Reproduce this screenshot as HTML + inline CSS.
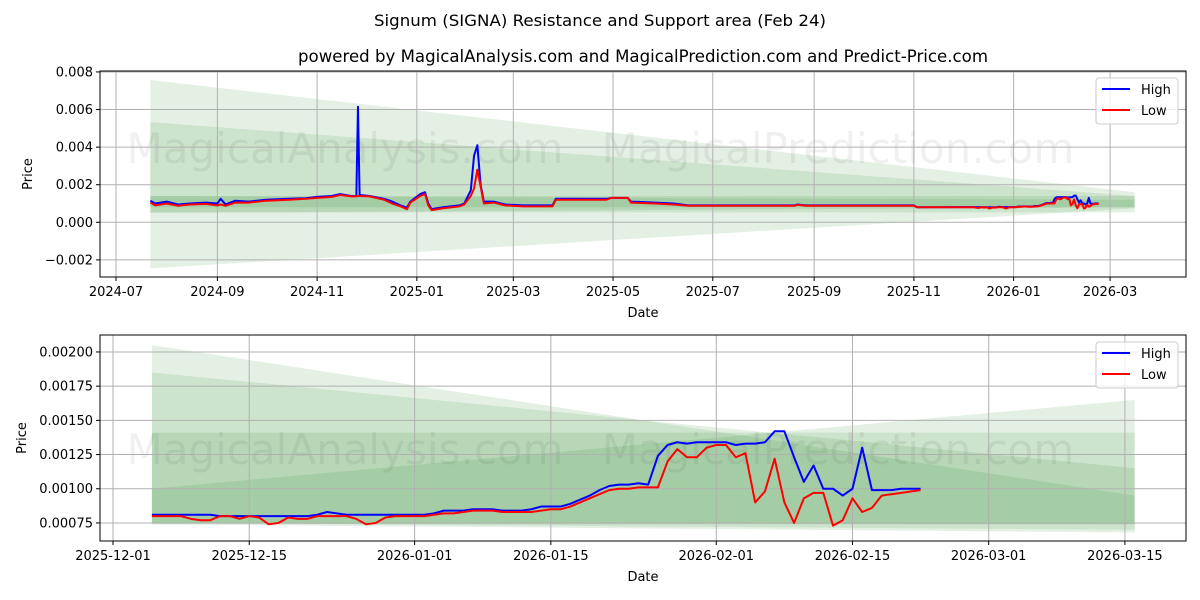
<!DOCTYPE html>
<html><head><meta charset="utf-8"><style>
body{margin:0;background:#fff;}
svg{display:block;font-family:"DejaVu Sans","Liberation Sans",sans-serif;}
</style></head><body>
<svg id="chart" width="1200" height="600" viewBox="0 0 1200 600" xmlns="http://www.w3.org/2000/svg">
<text x="600" y="26" text-anchor="middle" font-size="16" textLength="452" lengthAdjust="spacingAndGlyphs" fill="#000">Signum (SIGNA) Resistance and Support area (Feb 24)</text>
<text x="643" y="62" text-anchor="middle" font-size="16.5" textLength="690" lengthAdjust="spacingAndGlyphs" fill="#000">powered by MagicalAnalysis.com and MagicalPrediction.com and Predict-Price.com</text>
<g id="top"></g>
<g id="bot"></g>
</svg>
<script>
// ---- data ----
const topDates=["2024-07-22","2024-07-25","2024-08-01","2024-08-08","2024-08-15","2024-08-25","2024-09-01","2024-09-03","2024-09-06","2024-09-12","2024-09-20","2024-10-01","2024-10-15","2024-10-25","2024-11-01","2024-11-10","2024-11-15","2024-11-22","2024-11-25","2024-11-26","2024-11-27","2024-12-03","2024-12-12","2024-12-17","2024-12-22","2024-12-26","2024-12-28","2025-01-03","2025-01-06","2025-01-08","2025-01-10","2025-01-17","2025-01-27","2025-01-30","2025-02-03","2025-02-05","2025-02-07","2025-02-09","2025-02-11","2025-02-17","2025-02-24","2025-03-07","2025-03-25","2025-03-27","2025-04-27","2025-04-30","2025-05-10","2025-05-12","2025-05-27","2025-06-07","2025-06-16","2025-08-20","2025-08-22","2025-08-27","2025-11-01","2025-11-03","2025-11-30"];
const topHigh=[.00115,.00100,.00110,.00095,.00100,.00105,.00100,.00125,.00095,.00115,.00110,.00120,.00125,.00128,.00135,.00140,.00150,.00140,.00140,.00615,.00145,.00140,.00125,.00110,.00090,.00078,.00110,.00150,.00160,.00100,.00070,.00080,.00090,.00100,.00170,.00355,.00410,.00200,.00110,.00110,.00095,.00090,.00090,.00125,.00125,.00130,.00130,.00110,.00105,.00100,.00090,.00090,.00095,.00090,.00090,.00080,.00081];
const topLow=[.00105,.00090,.00100,.00088,.00095,.00098,.00090,.00095,.00088,.00105,.00105,.00115,.00120,.00125,.00130,.00135,.00145,.00138,.00138,.00140,.00140,.00138,.00120,.00100,.00085,.00070,.00105,.00140,.00150,.00090,.00065,.00075,.00085,.00095,.00140,.00180,.00280,.00190,.00100,.00105,.00090,.00085,.00085,.00120,.00120,.00130,.00130,.00105,.00100,.00095,.00088,.00088,.00093,.00088,.00088,.00080,.00080];
const botStart="2025-12-05";
const botHigh=[.00081,.00081,.00081,.00081,.00081,.00081,.00081,.00080,.00080,.00080,.00080,.00080,.00080,.00080,.00080,.00080,.00080,.00081,.00083,.00082,.00081,.00081,.00081,.00081,.00081,.00081,.00081,.00081,.00081,.00082,.00084,.00084,.00084,.00085,.00085,.00085,.00084,.00084,.00084,.00085,.00087,.00087,.00087,.00089,.00092,.00095,.00099,.00102,.00103,.00103,.00104,.00103,.00124,.00132,.00134,.00133,.00134,.00134,.00134,.00134,.00132,.00133,.00133,.00134,.00142,.00142,.00123,.00105,.00117,.00100,.00100,.00095,.00100,.00130,.00099,.00099,.00099,.00100,.00100,.00100];
const botLow=[.00080,.00080,.00080,.00080,.00078,.00077,.00077,.00080,.00080,.00078,.00080,.00079,.00074,.00075,.00079,.00078,.00078,.00080,.00080,.00080,.00080,.00078,.00074,.00075,.00079,.00080,.00080,.00080,.00080,.00081,.00082,.00082,.00083,.00084,.00084,.00084,.00083,.00083,.00083,.00083,.00084,.00085,.00085,.00087,.00090,.00093,.00096,.00099,.00100,.00100,.00101,.00101,.00101,.00120,.00129,.00123,.00123,.00130,.00132,.00132,.00123,.00126,.00090,.00098,.00122,.00090,.00075,.00093,.00097,.00097,.00073,.00077,.00093,.00083,.00086,.00095,.00096,.00097,.00098,.00099];
const topYTicks=[0.008,0.006,0.004,0.002,0,-0.002];
const topYLabels=["0.008","0.006","0.004","0.002","0.000","\u22120.002"];
const topXTicks=["2024-07","2024-09","2024-11","2025-01","2025-03","2025-05","2025-07","2025-09","2025-11","2026-01","2026-03"];
const botYTicks=[0.002,0.00175,0.0015,0.00125,0.001,0.00075];
const botYLabels=["0.00200","0.00175","0.00150","0.00125","0.00100","0.00075"];
const botXTicks=["2025-12-01","2025-12-15","2026-01-01","2026-01-15","2026-02-01","2026-02-15","2026-03-01","2026-03-15"];
// band layers: [startTop,startBottom,endTop,endBottom]
const topBands=[[0.00757,-0.00245,0.0016,0.00075],[0.00533,0.0005,0.0014,0.0008],[0.0014,0.00053,0.0014,0.00053],[0.0014,0.0008,0.0012,0.0008]];
const botBands=[[0.00205,0.00075,0.00095,0.00070],[0.00185,0.00075,0.00115,0.00074],[0.00141,0.00074,0.00141,0.00074],[0.00100,0.00074,0.00165,0.00068]];
const bandStart="2024-07-22", bandEnd="2026-03-16", botBandStart="2025-12-05";

const NS="http://www.w3.org/2000/svg";
const day=s=>Date.UTC(+s.slice(0,4),+s.slice(5,7)-1,s.length>7?+s.slice(8,10):1)/864e5;
function mk(parent,tag,attrs){const e=document.createElementNS(NS,tag);for(const k in attrs)e.setAttribute(k,attrs[k]);parent.appendChild(e);return e;}

function panel(g,cfg){
  const {L,R,T,B}=cfg;
  const X=d=>L+(d-cfg.d0)/(cfg.d1-cfg.d0)*(R-L);
  const Y=v=>T+(cfg.v1-v)/(cfg.v1-cfg.v0)*(B-T);
  const bs=day(cfg.bandStart),be=day(bandEnd);
  cfg.bands.forEach((b,i)=>{
    const p=mk(g,'polygon',{points:`${X(bs)},${Y(b[0])} ${X(be)},${Y(b[2])} ${X(be)},${Y(b[3])} ${X(bs)},${Y(b[1])}`,fill:'#2e8b2e','fill-opacity':0.13});
    
    
  });
  [[345,'MagicalAnalysis.com'],[838,'MagicalPrediction.com']].forEach(w=>{
    const t=mk(g,'text',{x:w[0],y:cfg.wmY,'text-anchor':'middle','font-size':42,fill:'#000','fill-opacity':0.06});
    t.textContent=w[1];
    
    
  });
  cfg.yt.forEach((v,i)=>{
    const y=Y(v);
    mk(g,'line',{x1:L,x2:R,y1:y,y2:y,stroke:'#b0b0b0','stroke-width':1});
    mk(g,'line',{x1:L-4,x2:L,y1:y,y2:y,stroke:'#000'});
    const t=mk(g,'text',{x:L-7,y:y+4.5,'text-anchor':'end','font-size':13});
    t.textContent=cfg.yl[i];
    
    
  });
  cfg.xt.forEach(s=>{
    const x=X(day(s));
    mk(g,'line',{x1:x,x2:x,y1:T,y2:B,stroke:'#b0b0b0','stroke-width':1});
    mk(g,'line',{x1:x,x2:x,y1:B,y2:B+4,stroke:'#000'});
    const t=mk(g,'text',{x:x,y:B+19,'text-anchor':'middle','font-size':13});
    t.textContent=s;
    
    
  });
  const line=(ds,vs,col,name)=>{
    const p=mk(g,'polyline',{points:vs.map((v,i)=>X(ds[i])+','+Y(v)).join(' '),fill:'none',stroke:col,'stroke-width':2,'stroke-linejoin':'round'});
    
    
  };
  line(cfg.ds,cfg.hi,'#0000ff','high-line');
  line(cfg.ds,cfg.lo,'#ff0000','low-line');
  mk(g,'rect',{x:L,y:T,width:R-L,height:B-T,fill:'none',stroke:'#000','stroke-width':1});
  const yl=mk(g,'text',{x:0,y:0,transform:`translate(${cfg.ylx},${(T+B)/2}) rotate(-90)`,'text-anchor':'middle','font-size':13});
  yl.textContent='Price';
  
  
  const xl=mk(g,'text',{x:643,y:B+40,'text-anchor':'middle','font-size':13});
  xl.textContent='Date';
  
  
  const lg=mk(g,'g',{});
  
  
  mk(lg,'rect',{x:1096,y:T+7,width:82,height:46,rx:3,fill:'#fff','fill-opacity':0.8,stroke:'#ccc'});
  [['High','#0000ff'],['Low','#ff0000']].forEach((e,i)=>{
    const y=T+18+i*21;
    mk(lg,'line',{x1:1102,x2:1130,y1:y,y2:y,stroke:e[1],'stroke-width':2});
    const t=mk(lg,'text',{x:1141,y:y+5,'font-size':13});
    t.textContent=e[0];
    
    
  });
}
const bs0=day(botStart);
const botDays=botHigh.map((_,i)=>bs0+i);
const topDays=topDates.map(day).concat(botDays);
panel(document.getElementById('top'),{L:100,R:1186,T:71,B:277,d0:day("2024-07-01")-(16/1.635),d1:day("2024-07-01")+(1186-116)/1.635,v0:-0.00291,v1:0.00805,
  yt:topYTicks,yl:topYLabels,xt:topXTicks,bands:topBands,bandStart:bandStart,ds:topDays,hi:topHigh.concat(botHigh),lo:topLow.concat(botLow),ylx:32,wmY:163});
panel(document.getElementById('bot'),{L:100,R:1186,T:335,B:541,d0:day("2025-12-01")-13/9.73,d1:day("2025-12-01")+(1186-113)/9.73,v0:0.000618,v1:0.002124,
  yt:botYTicks,yl:botYLabels,xt:botXTicks,bands:botBands,bandStart:botBandStart,ds:botDays,hi:botHigh,lo:botLow,ylx:26,wmY:464});
</script>
</body></html>
